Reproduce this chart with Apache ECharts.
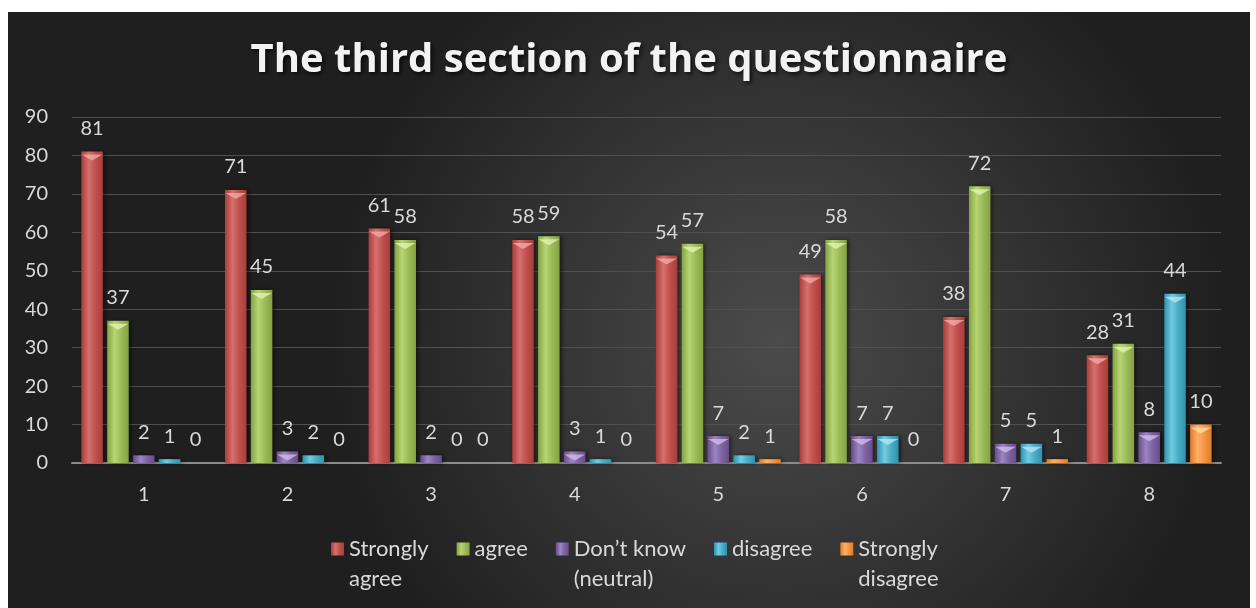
<!DOCTYPE html>
<html><head><meta charset="utf-8">
<script src="https://cdn.jsdelivr.net/npm/echarts@6/dist/echarts.min.js"></script>
<style>html,body{margin:0;padding:0;background:#fff}#c{position:absolute;left:8px;top:12px;width:1242px;height:596px}</style>
</head><body><div id="c"></div>
<script>
const categories = ['1','2','3','4','5','6','7','8'];
const seriesNames = ['Strongly agree','agree','Don\u2019t know (neutral)','disagree','Strongly disagree'];
const legendLabels = ['Strongly\nagree','agree\n ','Don\u2019t know\n(neutral)','disagree\n ','Strongly\ndisagree'];
const stronglyAgree = [81,71,61,58,54,49,38,28];
const agree = [37,45,58,59,57,58,72,31];
const dontKnow = [2,3,2,3,7,7,5,8];
const disagree = [1,2,0,1,2,7,5,44];
const stronglyDisagree = [0,0,0,0,1,0,1,10];
const yTicks = {min:0,max:90,interval:10};

const colors = [
  ['#a93d3a','#d6706c','#c0504d','#f0b0ae'],
  ['#84a242','#b7d572','#9bbb59','#e4f5b8'],
  ['#664d89','#9d84c2','#8064a2','#d2c2ea'],
  ['#2e93ad','#72cbe2','#4bacc6','#b8eaf7'],
  ['#dd7c26','#ffb066','#f79646','#ffe0a8']
];
const dataSets = [stronglyAgree, agree, dontKnow, disagree, stronglyDisagree];
const FONT = 'Lato';

const chart = echarts.init(document.getElementById('c'));
const barSeries = dataSets.map((d,i)=>({
  name: seriesNames[i],
  type:'bar',
  data:d,
  barGap:'20%',
  barCategoryGap:'13%',
  z:2,
  itemStyle:{
    color:new echarts.graphic.LinearGradient(0,0,1,0,[
      {offset:0,color:colors[i][0]},
      {offset:0.35,color:colors[i][1]},
      {offset:0.65,color:colors[i][2]},
      {offset:1,color:colors[i][0]}
    ]),
    borderWidth:0,
    shadowColor:'rgba(0,0,0,0.5)',
    shadowBlur:4,
    shadowOffsetX:2
  },
  label:{show:true,position:'top',distance:13,color:'#d9d9d9',fontSize:20,fontFamily:FONT}
}));
// bevel triangles on bar tops
const bevelSeries = dataSets.map((d,i)=>({
  name: seriesNames[i]+' bevel',
  type:'pictorialBar',
  barGap:'20%',
  barCategoryGap:'13%',
  z:3,
  silent:true,
  symbol:'path://M0,0L2,0L1,1Z',
  symbolPosition:'end',
  symbolSize:[21,6],
  symbolOffset:[0,'50%'],
  itemStyle:{color:colors[i][3],opacity:0.75},
  data:d.map(v=>v>=3?v:{value:v,symbolSize:[0,0]})
}));

chart.setOption({
  backgroundColor:new echarts.graphic.RadialGradient(0.62,0.55,0.75,[
    {offset:0,color:'#4b4b4b'},
    {offset:1,color:'#1f1f1f'}
  ]),
  title:{
    text:'The third section of the questionnaire',
    left:'center', top:24,
    textStyle:{color:'#f2f2f2',fontSize:40,fontWeight:'bold',fontFamily:'Open Sans',
      textShadowColor:'rgba(0,0,0,0.75)',textShadowBlur:4,textShadowOffsetX:2,textShadowOffsetY:2}
  },
  legend:{
    top:517, left:318,
    data:seriesNames,
    icon:'path://M0,0h13v13h-13z M0,43', itemWidth:13, itemHeight:43, itemGap:28,
    formatter:n=>legendLabels[seriesNames.indexOf(n)],
    textStyle:{color:'#d9d9d9',fontSize:22,fontFamily:FONT,lineHeight:30}
  },
  grid:{left:64,right:29,top:105,bottom:145,containLabel:false},
  xAxis:{
    type:'category',data:categories,
    axisLine:{lineStyle:{color:'#8c8c8c',width:2}},
    axisTick:{show:false},
    axisLabel:{color:'#d9d9d9',fontSize:20,fontFamily:FONT,margin:22}
  },
  yAxis:{
    type:'value',min:yTicks.min,max:yTicks.max,interval:yTicks.interval,
    axisLine:{show:false},axisTick:{show:false},
    splitLine:{lineStyle:{color:'#505050',width:1}},
    axisLabel:{color:'#d9d9d9',fontSize:20,fontFamily:FONT,margin:24}
  },
  series: barSeries.concat(bevelSeries)
});
</script></body></html>
